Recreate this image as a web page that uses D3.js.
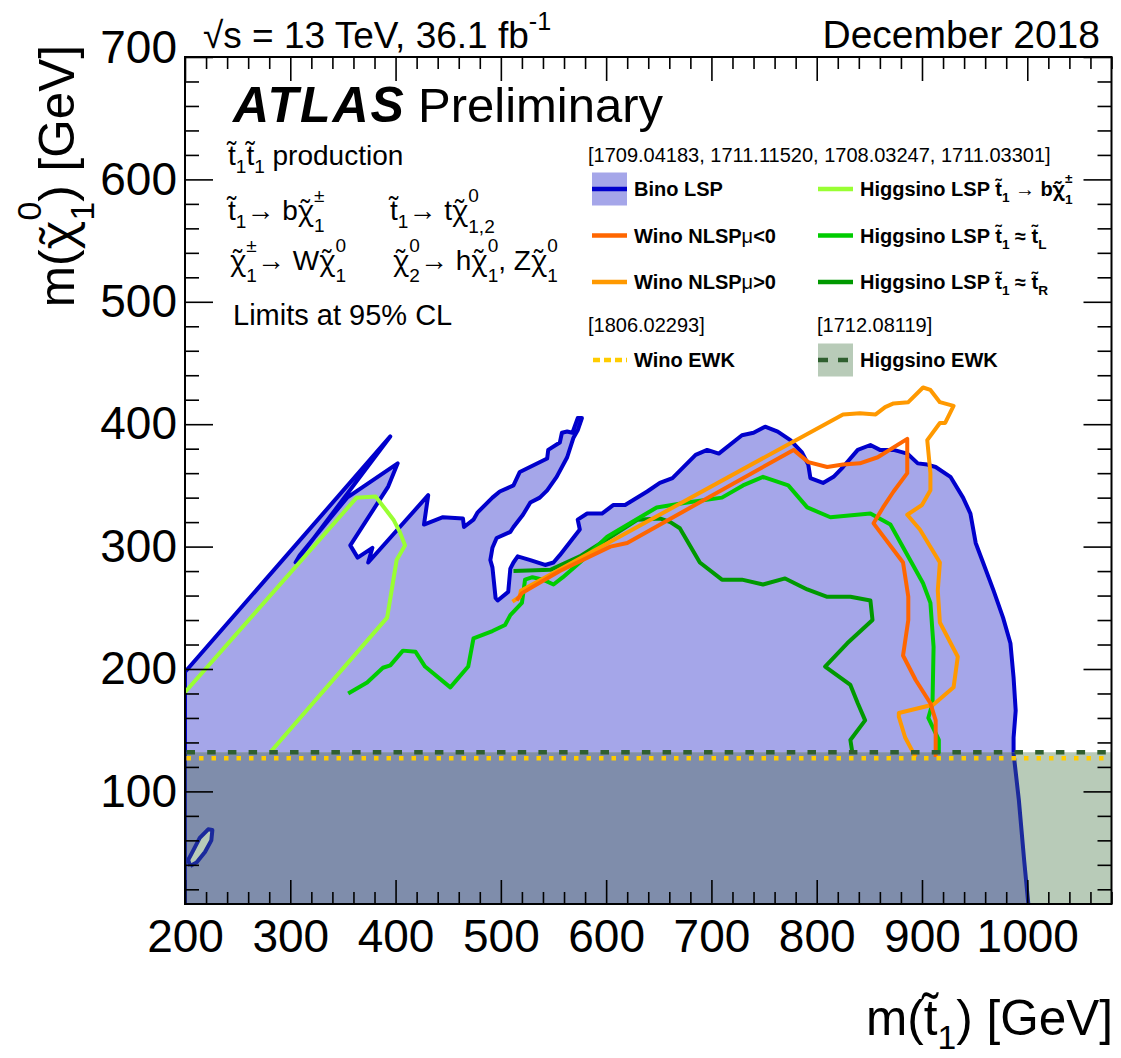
<!DOCTYPE html>
<html>
<head>
<meta charset="utf-8">
<script src="https://cdn.jsdelivr.net/npm/d3@7"></script>
<style>
  html, body { margin: 0; padding: 0; background: #fff; }
  svg { display: block; }
</style>
</head>
<body>
<svg id="chart" width="1121" height="1058"></svg>
<script>
// ---- Axis ranges and ticks ----
const xDomain = [200, 1080];
const yDomain = [8, 700];
const xMajorTicks = [200, 300, 400, 500, 600, 700, 800, 900, 1000];
const yMajorTicks = [100, 200, 300, 400, 500, 600, 700];

// ---- Exclusion contours: [m(stop), m(LSP)] in GeV ----
const binoLSP = [[200,8],[200,197.5],[395,390],[305,287],[309,293],[354,340],[402,368],[393,349],[357,301],[364,291],[378,299],[374,287],[431,342],[427,318],[445,324],[464,323],[465,316],[474,322],[478,328],[492,340],[499,345],[512,350],[518,361],[544,372],[545,379],[556,385],[558,393],[563,394],[568,393],[573,405],[577,405],[573,395],[569,389],[563,373],[553,357],[544,346],[537,340],[528,336],[521,326],[512,316],[509,312],[496,307],[492,299],[490,289],[492,283],[495,258],[497,256],[507,263],[509,282],[512,287],[516,292],[528,289],[542,285],[550,287],[556,293],[575,314],[573,322],[582,327],[596,327],[607,334],[618,334],[639,345],[651,352],[663,356],[685,375],[696,379],[707,376],[729,391],[740,393],[751,398],[763,394],[775,387],[786,377],[792,367],[794,356],[806,352],[816,357],[825,365],[839,379],[851,383],[860,379],[873,379],[886,376],[896,368],[905,367],[913,365],[927,357],[939,340],[946,327],[951,303],[958,287],[968,264],[977,242],[984,221],[987,193],[989,166],[987,144],[987,131],[992,93],[997,44],[1001,8]];
const binoIsland = [[205,39],[203,44],[208,52],[214,62],[222,69],[226,68.5],[225,60],[219,50.5],[211,42],[205,39]];

const winoNLSPneg = [[515,256],[520,262],[556,280],[604,300],[620,303],[778,379],[792,369],[810,365],[825,367],[841,368],[858,373],[886,388],[886,360],[873,345],[863,332],[854,319],[882,287],[887,259],[887,240],[882,211],[894,191],[908,172],[913,158],[913,128]];
const winoNLSPpos = [[511,255],[518,259],[519,264],[825,408],[841,409],[856,408],[865,414],[873,417],[887,418],[901,430],[908,428],[917,418],[930,415],[922,401],[917,401],[905,387],[908,360],[908,346],[900,334],[886,326],[898,314],[917,287],[915,264],[917,238],[934,210],[930,185],[911,171],[878,164],[878,161],[884,144],[894,128]];
const higgsinoBC = [[200,181],[363,340],[381,341],[398,322],[404,312],[409,301],[401,289],[392,242],[281,132]];
const higgsinoTL = [[355,180],[373,189],[388,201],[395,203],[407,215],[419,214],[428,202],[452,185],[469,202],[474,225],[492,231],[504,236],[509,244],[520,254],[523,273],[530,275],[540,273],[550,269],[559,275],[575,287],[601,308],[648,332],[677,336],[710,340],[730,350],[749,357],[773,350],[791,332],[813,324],[851,327],[870,318],[901,270],[908,254],[911,218],[910,172],[906,160],[916,142],[916,131]];
const higgsinoTR = [[512,280],[547,281],[575,292],[597,304],[630,322],[651,323],[661,320],[670,315],[689,287],[710,273],[729,273],[749,269],[770,274],[791,265],[810,259],[832,259],[851,256],[853,240],[829,221],[808,202],[832,187],[839,172],[846,158],[832,142],[834,131]];

// Electroweakino limits (horizontal lines in m(LSP))
const higgsinoEWK = 132;
const winoEWK = 127;

// ---- Colours ----
const C = {
  binoFill: "#a5a6e9", binoLine: "#0000cc", binoLineDark: "#1b2a9c",
  overlap: "#7f8dab", ewkFill: "#b8cbb8", ewkLine: "#2f5f2f",
  winoEWK: "#ffcc00", neg: "#ff6600", pos: "#ff9900",
  hBC: "#99ff33", hTL: "#00cc00", hTR: "#009900"
};

const FONT = "'Liberation Sans', Arial, Helvetica, sans-serif";
const GREEK = "'Noto Sans', 'DejaVu Sans', sans-serif";
const frame = { left: 185, right: 1111.5, top: 57, bottom: 904 };

const svg = d3.select("#chart");
const x = d3.scaleLinear(xDomain, [frame.left, frame.right]);
const y = d3.scaleLinear(yDomain, [frame.bottom, frame.top]);
const line = d3.line().x(d => x(d[0])).y(d => y(d[1]));

const defs = svg.append("defs");
defs.append("clipPath").attr("id", "plotClip").append("rect")
  .attr("x", frame.left).attr("y", frame.top)
  .attr("width", frame.right - frame.left).attr("height", frame.bottom - frame.top);
defs.append("clipPath").attr("id", "ewkClip").append("rect")
  .attr("x", x(xDomain[0])).attr("y", y(higgsinoEWK))
  .attr("width", x(xDomain[1]) - x(xDomain[0])).attr("height", y(yDomain[0]) - y(higgsinoEWK));
defs.append("clipPath").attr("id", "aboveClip").append("rect")
  .attr("x", x(xDomain[0])).attr("y", frame.top)
  .attr("width", x(xDomain[1]) - x(xDomain[0])).attr("height", y(higgsinoEWK) - frame.top);

const plot = svg.append("g").attr("clip-path", "url(#plotClip)");
const binoArea = line(binoLSP) + "Z" + line(binoIsland) + "Z";

// Bino LSP excluded area
plot.append("path").attr("d", binoArea).attr("fill", C.binoFill).attr("fill-rule", "evenodd");
// Higgsino EWK excluded band
plot.append("rect")
  .attr("x", x(xDomain[0])).attr("y", y(higgsinoEWK))
  .attr("width", x(xDomain[1]) - x(xDomain[0])).attr("height", y(yDomain[0]) - y(higgsinoEWK))
  .attr("fill", C.ewkFill);
// overlap of both areas
plot.append("path").attr("d", binoArea).attr("fill", C.overlap).attr("fill-rule", "evenodd")
  .attr("clip-path", "url(#ewkClip)");

// Bino contour line
plot.append("g").attr("clip-path", "url(#aboveClip)").append("path")
  .attr("d", line(binoLSP)).attr("fill", "none").attr("stroke", C.binoLine)
  .attr("stroke-width", 4).attr("stroke-linejoin", "round");
const lowBino = plot.append("g").attr("clip-path", "url(#ewkClip)");
lowBino.append("path").attr("d", line(binoLSP)).attr("fill", "none").attr("stroke", C.binoLineDark)
  .attr("stroke-width", 4).attr("stroke-linejoin", "round");
lowBino.append("path").attr("d", line(binoIsland)).attr("fill", "none").attr("stroke", C.binoLineDark)
  .attr("stroke-width", 4).attr("stroke-linejoin", "round");

// Other contours
const curves = [
  [higgsinoBC, C.hBC], [higgsinoTR, C.hTR], [higgsinoTL, C.hTL],
  [winoNLSPpos, C.pos], [winoNLSPneg, C.neg]
];
curves.forEach(([data, col]) => {
  plot.append("path").attr("d", line(data)).attr("fill", "none").attr("stroke", col)
    .attr("stroke-width", 4).attr("stroke-linejoin", "round");
});

// EWK limit lines
plot.append("line").attr("x1", x(xDomain[0]) + 1.5).attr("x2", x(xDomain[1]))
  .attr("y1", y(higgsinoEWK)).attr("y2", y(higgsinoEWK))
  .attr("stroke", C.ewkLine).attr("stroke-width", 4.5).attr("stroke-dasharray", "8.5 12.2");
plot.append("line").attr("x1", x(xDomain[0]) + 1.5).attr("x2", x(xDomain[1]))
  .attr("y1", y(winoEWK)).attr("y2", y(winoEWK))
  .attr("stroke", C.winoEWK).attr("stroke-width", 4.5).attr("stroke-dasharray", "4.5 8");

// ---- Axes ----
const minorX = d3.range(220, 1081, 20).filter(v => v % 100 !== 0);
const minorY = d3.range(20, 701, 20).filter(v => v % 100 !== 0);

function styleAxis(g) {
  g.select(".domain").remove();
  g.selectAll(".tick line").attr("stroke", "#000").attr("stroke-width", 1.6);
  g.selectAll("text").attr("font-family", FONT).attr("font-size", 46).attr("fill", "#000");
}
const axes = svg.append("g");
axes.append("g").attr("transform", `translate(0,${frame.bottom})`)
  .call(d3.axisBottom(x).tickValues(xMajorTicks).tickSize(-24).tickPadding(15).tickFormat(d3.format("d")))
  .call(styleAxis);
axes.append("g").attr("transform", `translate(0,${frame.bottom})`)
  .call(d3.axisBottom(x).tickValues(minorX).tickSize(-12).tickFormat(""))
  .call(styleAxis);
axes.append("g").attr("transform", `translate(0,${frame.top})`)
  .call(d3.axisTop(x).tickValues(xMajorTicks).tickSize(-24).tickFormat(""))
  .call(styleAxis);
axes.append("g").attr("transform", `translate(0,${frame.top})`)
  .call(d3.axisTop(x).tickValues(minorX).tickSize(-12).tickFormat(""))
  .call(styleAxis);
const yAxisG = axes.append("g").attr("transform", `translate(${frame.left},0)`)
  .call(d3.axisLeft(y).tickValues(yMajorTicks).tickSize(-28).tickPadding(8).tickFormat(d3.format("d")))
  .call(styleAxis);
// the top label sits a little higher than its tick
yAxisG.selectAll(".tick").filter(d => d === 700).select("text").attr("dy", "0.12em");
axes.append("g").attr("transform", `translate(${frame.left},0)`)
  .call(d3.axisLeft(y).tickValues(minorY).tickSize(-14).tickFormat(""))
  .call(styleAxis);
axes.append("g").attr("transform", `translate(${frame.right},0)`)
  .call(d3.axisRight(y).tickValues(yMajorTicks).tickSize(-28).tickFormat(""))
  .call(styleAxis);
axes.append("g").attr("transform", `translate(${frame.right},0)`)
  .call(d3.axisRight(y).tickValues(minorY).tickSize(-14).tickFormat(""))
  .call(styleAxis);
svg.append("rect").attr("x", frame.left).attr("y", frame.top)
  .attr("width", frame.right - frame.left).attr("height", frame.bottom - frame.top)
  .attr("fill", "none").attr("stroke", "#000").attr("stroke-width", 2);

// ---- Rich text: one <text> per label; accented letters use a combining tilde,
//      sub/superscripts are stacked tspans ----
function rich(parent, px, py, parts, o) {
  const size = o.size;
  const baseW = o.weight || "normal";
  const style = o.style || "normal";
  const probe = parent.append("text").attr("font-style", style).style("white-space", "pre");
  const measure = (s, fs, w, fam) => {
    probe.attr("font-family", fam || FONT).attr("font-size", fs).attr("font-weight", w).text(s);
    return probe.node().getComputedTextLength();
  };
  const items = [];
  let cx = 0;
  for (const p of parts) {
    const w = p.weight || baseW;
    const s = p.tilde ? p.t + "\u0303" : p.t;
    const fs = size * (p.scale || 1);
    const bw = measure(s, fs, w, p.font);
    items.push({ s, x: cx, y: 0, fs, w, fam: p.font });
    cx += bw;
    let adv = 0;
    const sx = cx + (p.gap || 0) * size;
    if (p.sub) {
      adv = Math.max(adv, measure(p.sub, size * 0.68, baseW));
      items.push({ s: p.sub, x: sx, y: (p.subDy ?? 0.3) * size, fs: size * 0.68, w: baseW });
    }
    if (p.sup) {
      adv = Math.max(adv, measure(p.sup, size * 0.68, baseW));
      items.push({ s: p.sup, x: sx, y: -(p.supDy ?? 0.55) * size, fs: size * 0.68, w: baseW });
    }
    cx = adv ? sx + adv : cx;
  }
  probe.remove();
  const shift = o.anchor === "end" ? -cx : 0;
  const t = parent.append("text").attr("font-family", FONT).attr("font-style", style)
    .attr("fill", "#000").style("white-space", "pre");
  if (o.spacing) t.attr("letter-spacing", o.spacing);
  items.forEach(it => {
    const ts = t.append("tspan").attr("x", it.x + shift).attr("y", it.y)
      .attr("font-size", it.fs).attr("font-weight", it.w).text(it.s);
    if (it.fam) ts.attr("font-family", it.fam);
  });
  t.attr("transform", o.rotate ? `translate(${px},${py}) rotate(${o.rotate})` : `translate(${px},${py})`);
  return t;
}

const txt = svg.append("g");
const chi = (sub, sup, extra) => Object.assign({ t: "χ", tilde: 1, font: GREEK, scale: 0.95, sub, sup, subDy: 0.42, supDy: 0.66, gap: 0.02 }, extra || {});
const stop = (sub) => ({ t: "t", tilde: 1, sub: sub || "1" });

// Header
rich(txt, 203, 48, [{ t: "√s = 13 TeV, 36.1 fb", sup: "-1", supDy: 0.5 }], { size: 37 });
rich(txt, 1100, 48, [{ t: "December 2018" }], { size: 39, anchor: "end" });

// Axis titles
rich(txt, 1113, 1035, [{ t: "m(" }, { t: "t", tilde: 1, sub: "1", subDy: 0.28 }, { t: ") [GeV]" }], { size: 49.5, anchor: "end" });
rich(txt, 74, 45, [{ t: "m(" }, chi("1", "0", { subDy: 0.4 }), { t: ") [GeV]" }], { size: 49.5, anchor: "end", rotate: -90 });

// ATLAS label
rich(txt, 233, 122, [{ t: "ATLAS" }], { size: 50, weight: "bold", style: "italic", spacing: 2 });
rich(txt, 418, 122, [{ t: "Preliminary" }], { size: 49 });

// Process description
const S = 28;
rich(txt, 228, 165, [stop(), stop(), { t: " production" }], { size: S });
rich(txt, 228, 220, [stop(), { t: "→ b" }, chi("1", "±")], { size: S });
rich(txt, 390, 220, [stop(), { t: "→ t" }, chi("1,2", "0", { subDy: 0.45 })], { size: S });
rich(txt, 230, 270, [chi("1", "±"), { t: "→ W" }, chi("1", "0")], { size: S });
rich(txt, 393, 270, [chi("2", "0"), { t: "→ h" }, chi("1", "0"), { t: ", Z" }, chi("1", "0")], { size: S });
rich(txt, 233, 325, [{ t: "Limits at 95% CL" }], { size: 29 });

// ---- Legend ----
const legendRefs = [
  { text: "[1709.04183, 1711.11520, 1708.03247, 1711.03301]", x: 588, y: 162 },
  { text: "[1806.02293]", x: 588, y: 332 },
  { text: "[1712.08119]", x: 817, y: 332 }
];
const legendEntries = [
  { col: 0, row: 0, kind: "area", color: C.binoLine, fill: C.binoFill, parts: [{ t: "Bino LSP" }] },
  { col: 0, row: 1, kind: "line", color: C.neg, parts: [{ t: "Wino NLSP" }, { t: "μ", weight: "normal" }, { t: "<0" }] },
  { col: 0, row: 2, kind: "line", color: C.pos, parts: [{ t: "Wino NLSP" }, { t: "μ", weight: "normal" }, { t: ">0" }] },
  { col: 1, row: 0, kind: "line", color: C.hBC, parts: [{ t: "Higgsino LSP " }, stop(), { t: " → b" }, chi("1", "±")] },
  { col: 1, row: 1, kind: "line", color: C.hTL, parts: [{ t: "Higgsino LSP " }, stop(), { t: " ≈ " }, stop("L")] },
  { col: 1, row: 2, kind: "line", color: C.hTR, parts: [{ t: "Higgsino LSP " }, stop(), { t: " ≈ " }, stop("R")] },
  { col: 0, row: 3, kind: "dots", color: C.winoEWK, parts: [{ t: "Wino EWK" }] },
  { col: 1, row: 3, kind: "dashArea", color: C.ewkLine, fill: C.ewkFill, parts: [{ t: "Higgsino EWK" }] }
];
const colX = [592, 818];
const rowY = [189, 235.5, 282, 360];
const symW = 35;

const leg = svg.append("g");
legendRefs.forEach(r => rich(leg, r.x, r.y, [{ t: r.text }], { size: 20 }));
legendEntries.forEach(e => {
  const x0 = colX[e.col], yc = rowY[e.row];
  if (e.kind === "area" || e.kind === "dashArea") {
    leg.append("rect").attr("x", x0).attr("y", yc - 16.5).attr("width", symW).attr("height", 33).attr("fill", e.fill);
  }
  const ln = leg.append("line").attr("x1", x0).attr("x2", x0 + symW).attr("y1", yc).attr("y2", yc)
    .attr("stroke", e.color).attr("stroke-width", 4.5);
  if (e.kind === "dots") ln.attr("stroke-dasharray", "7 4").attr("x1", x0 + 1);
  if (e.kind === "dashArea") ln.attr("stroke-dasharray", "10 10");
  rich(leg, x0 + 42, yc + 7, e.parts, { size: 20, weight: "bold" });
});
</script>
</body>
</html>
